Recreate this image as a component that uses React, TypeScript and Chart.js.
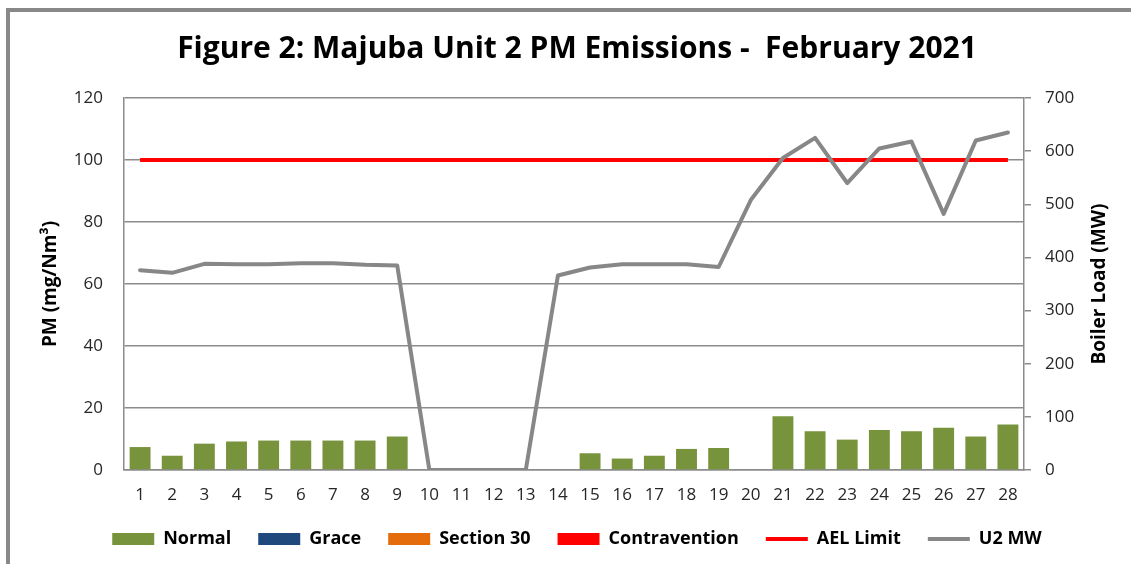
import React, { useEffect, useRef } from "react";
import { Chart, registerables } from "chart.js";

Chart.register(...registerables);

const titleText = "Figure 2: Majuba Unit 2 PM Emissions -  February 2021";
const leftAxisTitle = "PM (mg/Nm³)";
const rightAxisTitle = "Boiler Load (MW)";

const days = [
  "1", "2", "3", "4", "5", "6", "7", "8", "9", "10", "11", "12", "13", "14",
  "15", "16", "17", "18", "19", "20", "21", "22", "23", "24", "25", "26", "27", "28",
];

const normal: (number | null)[] = [
  7.4, 4.6, 8.5, 9.2, 9.5, 9.5, 9.5, 9.5, 10.8, null, null, null, null, null,
  5.4, 3.7, 4.6, 6.8, 7.1, null, 17.3, 12.5, 9.8, 12.9, 12.5, 13.6, 10.8, 14.7,
];
const grace: (number | null)[] = [];
const section30: (number | null)[] = [];
const contravention: (number | null)[] = [];

const aelLimit = [
  100, 100, 100, 100, 100, 100, 100, 100, 100, 100, 100, 100, 100, 100,
  100, 100, 100, 100, 100, 100, 100, 100, 100, 100, 100, 100, 100, 100,
];

const u2MW = [
  376, 371, 388, 387, 387, 389, 389, 386, 385, 0, 0, 0, 0, 366,
  381, 387, 387, 387, 382, 508, 587, 625, 540, 605, 618, 482, 620, 635,
];

const leftMin = 0, leftMax = 120, leftStep = 20;
const rightMin = 0, rightMax = 700, rightStep = 100;

const FONT = "'Open Sans'";
const GRID = "#8c8c8c";

const rightTitlePlugin = {
  id: "rightTitle",
  afterDraw(chart: any) {
    const { ctx, chartArea } = chart;
    const sc = chart.scales.y1;
    ctx.save();
    ctx.font = `bold 19px ${FONT}`;
    ctx.fillStyle = "#000";
    ctx.textAlign = "center";
    ctx.textBaseline = "middle";
    ctx.translate(sc.right - 31, (chartArea.top + chartArea.bottom) / 2);
    ctx.rotate(-Math.PI / 2);
    ctx.fillText(rightAxisTitle, 0, 0);
    ctx.restore();
  },
};

export default function App() {
  const ref = useRef<HTMLCanvasElement | null>(null);

  useEffect(() => {
    if (!ref.current) return;
    const barCommon = { yAxisID: "y", grouped: false, order: 2, barPercentage: 0.65, categoryPercentage: 1 };
    const chart = new Chart(ref.current, {
      type: "bar",
      data: {
        labels: days,
        datasets: [
          { type: "bar", label: "Normal", data: normal, backgroundColor: "#77933C", ...barCommon } as any,
          { type: "bar", label: "Grace", data: grace, backgroundColor: "#1F497D", ...barCommon } as any,
          { type: "bar", label: "Section 30", data: section30, backgroundColor: "#E46C0A", ...barCommon } as any,
          { type: "bar", label: "Contravention", data: contravention, backgroundColor: "#FF0000", ...barCommon } as any,
          { type: "line", label: "AEL Limit", data: aelLimit, borderColor: "#FF0000", backgroundColor: "#FF0000", borderWidth: 4, pointRadius: 0, yAxisID: "y", order: 1, tension: 0 } as any,
          { type: "line", label: "U2 MW", data: u2MW, borderColor: "#878787", backgroundColor: "#878787", borderWidth: 4, pointRadius: 0, yAxisID: "y1", order: 0, tension: 0, borderJoinStyle: "round", borderCapStyle: "round" } as any,
        ],
      },
      options: {
        animation: false,
        responsive: false,
        maintainAspectRatio: false,
        layout: { padding: { top: 0, left: 23, right: 0, bottom: 6 } },
        plugins: {
          tooltip: { enabled: false },
          title: {
            display: true,
            text: titleText,
            color: "#000",
            font: { family: FONT, size: 30, weight: "bold" },
            padding: { top: 31, bottom: 31 },
          },
          legend: {
            position: "bottom",
            labels: {
              usePointStyle: true,
              pointStyleWidth: 42,
              boxHeight: 12,
              padding: 27,
              color: "#000",
              font: { family: FONT, size: 18, weight: "bold" },
              generateLabels: (c: any) =>
                c.data.datasets.map((ds: any, i: number) => {
                  const isLine = ds.type === "line";
                  const col = isLine ? ds.borderColor : ds.backgroundColor;
                  return {
                    text: ds.label,
                    fillStyle: col,
                    strokeStyle: col,
                    lineWidth: isLine ? 4 : 0,
                    pointStyle: isLine ? "line" : "rect",
                    hidden: false,
                    datasetIndex: i,
                    fontColor: "#000",
                  };
                }),
            },
          },
        },
        scales: {
          x: {
            grid: { display: false, drawTicks: false },
            border: { display: true, color: GRID, width: 1.5 },
            ticks: { color: "#262626", padding: 15, font: { family: FONT, size: 17 }, maxRotation: 0, autoSkip: false },
            afterFit: (s: any) => { s.height = 33; },
          },
          y: {
            position: "left",
            min: leftMin,
            max: leftMax,
            ticks: { stepSize: leftStep, color: "#262626", padding: 21, font: { family: FONT, size: 17 } },
            grid: { color: GRID, lineWidth: 1.5, drawTicks: false },
            border: { display: true, color: GRID, width: 1.5 },
            title: { display: true, text: leftAxisTitle, color: "#000", font: { family: FONT, size: 19, weight: "bold" }, padding: { top: 16, bottom: 0 } },
            afterFit: (s: any) => { s.width = 101; },
          },
          y1: {
            position: "right",
            min: rightMin,
            max: rightMax,
            ticks: { stepSize: rightStep, color: "#262626", padding: 14, font: { family: FONT, size: 17 } },
            grid: { drawOnChartArea: false, color: GRID, lineWidth: 1.5, tickLength: 7 },
            border: { display: true, color: GRID, width: 1.5 },
            afterFit: (s: any) => { s.width = 107; },
          },
        },
      } as any,
      plugins: [rightTitlePlugin],
    });
    return () => chart.destroy();
  }, []);

  return (
    <div style={{ position: "absolute", left: 0, top: 0, width: 1131, height: 564, background: "#fff", overflow: "hidden" }}>
      <div style={{ position: "absolute", left: 6, top: 8, width: 1300, height: 800, borderTop: "4px solid #888", borderLeft: "4px solid #888" }} />
      <canvas ref={ref} width={1131} height={564} style={{ position: "absolute", left: 0, top: 0, width: 1131, height: 564 }} />
    </div>
  );
}
